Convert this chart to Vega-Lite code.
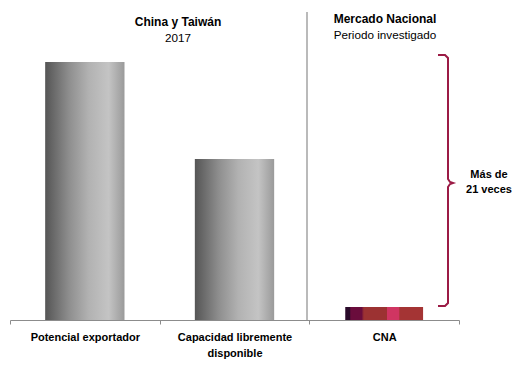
{
  "$schema": "https://vega.github.io/schema/vega-lite/v6.json",
  "autosize": "none",
  "width": 449,
  "height": 310,
  "padding": {"left": 10, "top": 10, "right": 60, "bottom": 52},
  "background": "white",
  "config": {"view": {"stroke": null}, "font": "Liberation Sans"},
  "datasets": {
    "bars": [
      {"categoria": "Potencial exportador", "valor": 258},
      {"categoria": "Capacidad libremente disponible", "valor": 161},
      {"categoria": "CNA", "valor": 13}
    ],
    "bracket": [
      {"orden": 1, "px": 428, "py": 265},
      {"orden": 2, "px": 435, "py": 265},
      {"orden": 3, "px": 438, "py": 262},
      {"orden": 4, "px": 438, "py": 141},
      {"orden": 5, "px": 440, "py": 138},
      {"orden": 6, "px": 443, "py": 137},
      {"orden": 7, "px": 440, "py": 136},
      {"orden": 8, "px": 438, "py": 133},
      {"orden": 9, "px": 438, "py": 17},
      {"orden": 10, "px": 435, "py": 14},
      {"orden": 11, "px": 428, "py": 14}
    ],
    "textos": [
      {"tipo": "titulo", "px": 168, "py": 298, "texto": "China y Taiwán"},
      {"tipo": "subtitulo", "px": 168, "py": 282, "texto": "2017"},
      {"tipo": "titulo", "px": 375, "py": 301, "texto": "Mercado Nacional"},
      {"tipo": "subtitulo", "px": 375, "py": 285, "texto": "Periodo investigado"},
      {"tipo": "nota", "px": 479, "py": 145, "texto": "Más de"},
      {"tipo": "nota", "px": 479, "py": 130, "texto": "21 veces"}
    ],
    "separador": [{"px": 297, "y1": 308, "y2": 0}]
  },
  "layer": [
    {
      "data": {"name": "bars"},
      "encoding": {
        "x": {
          "field": "categoria", "type": "nominal", "sort": null,
          "scale": {"paddingInner": 0, "paddingOuter": 0},
          "axis": {
            "title": null, "labelAngle": 0, "domainColor": "#8c8c8c", "tickColor": "#8c8c8c",
            "tickBand": "extent", "tickSize": 4, "labelPadding": 7,
            "labelFont": "Liberation Sans", "labelFontWeight": "bold", "labelFontSize": 11, "labelColor": "#000000",
            "labelLineHeight": 16, "labelBaseline": "top",
            "labelExpr": "datum.label == 'Capacidad libremente disponible' ? ['Capacidad libremente', 'disponible'] : datum.label"
          }
        },
        "y": {"field": "valor", "type": "quantitative", "scale": {"domain": [0, 310], "nice": false, "zero": true}, "axis": null}
      },
      "layer": [
        {
          "transform": [{"filter": "datum.categoria != 'CNA'"}],
          "mark": {
            "type": "bar", "width": {"band": 0.53},
            "color": {
              "gradient": "linear", "x1": 0, "x2": 1, "y1": 0, "y2": 0,
              "stops": [
                {"offset": 0, "color": "#555555"},
                {"offset": 0.3, "color": "#8e8e8e"},
                {"offset": 0.55, "color": "#b2b2b2"},
                {"offset": 0.8, "color": "#c4c4c4"},
                {"offset": 1, "color": "#9a9a9a"}
              ]
            }
          }
        },
        {
          "transform": [{"filter": "datum.categoria == 'CNA'"}],
          "mark": {
            "type": "bar", "width": {"band": 0.52},
            "color": {
              "gradient": "linear", "x1": 0, "x2": 1, "y1": 0, "y2": 0,
              "stops": [
                {"offset": 0, "color": "#2a0a2a"},
                {"offset": 0.06, "color": "#2a0a2a"},
                {"offset": 0.07, "color": "#6a0c3c"},
                {"offset": 0.21, "color": "#6a0c3c"},
                {"offset": 0.24, "color": "#9c3232"},
                {"offset": 0.53, "color": "#9c3232"},
                {"offset": 0.54, "color": "#d03562"},
                {"offset": 0.69, "color": "#d03562"},
                {"offset": 0.7, "color": "#a43434"},
                {"offset": 1, "color": "#a43434"}
              ]
            }
          }
        }
      ]
    },
    {
      "layer": [
        {
          "data": {"name": "separador"},
          "mark": {"type": "rule", "color": "#8c8c8c", "strokeWidth": 1.2},
          "encoding": {
            "x": {"field": "px", "type": "quantitative", "scale": {"domain": [0, 449], "nice": false}, "axis": null},
            "y": {"field": "y1", "type": "quantitative", "scale": {"domain": [0, 310], "nice": false}},
            "y2": {"field": "y2"}
          }
        },
        {
          "data": {"name": "bracket"},
          "mark": {"type": "line", "color": "#9b1b45", "strokeWidth": 2},
          "encoding": {
            "x": {"field": "px", "type": "quantitative", "scale": {"domain": [0, 449], "nice": false}, "axis": null},
            "y": {"field": "py", "type": "quantitative", "scale": {"domain": [0, 310], "nice": false}},
            "order": {"field": "orden"}
          }
        },
        {
          "data": {"name": "textos"},
          "transform": [{"filter": "datum.tipo == 'titulo'"}],
          "mark": {"type": "text", "fontWeight": "bold", "fontSize": 12, "color": "#000000", "align": "center", "baseline": "middle"},
          "encoding": {
            "x": {"field": "px", "type": "quantitative", "scale": {"domain": [0, 449], "nice": false}, "axis": null},
            "y": {"field": "py", "type": "quantitative", "scale": {"domain": [0, 310], "nice": false}},
            "text": {"field": "texto"}
          }
        },
        {
          "data": {"name": "textos"},
          "transform": [{"filter": "datum.tipo == 'nota'"}],
          "mark": {"type": "text", "fontWeight": "bold", "fontSize": 11, "color": "#000000", "align": "center", "baseline": "middle"},
          "encoding": {
            "x": {"field": "px", "type": "quantitative", "scale": {"domain": [0, 449], "nice": false}, "axis": null},
            "y": {"field": "py", "type": "quantitative", "scale": {"domain": [0, 310], "nice": false}},
            "text": {"field": "texto"}
          }
        },
        {
          "data": {"name": "textos"},
          "transform": [{"filter": "datum.tipo == 'subtitulo'"}],
          "mark": {"type": "text", "fontSize": 11.7, "color": "#000000", "align": "center", "baseline": "middle"},
          "encoding": {
            "x": {"field": "px", "type": "quantitative", "scale": {"domain": [0, 449], "nice": false}, "axis": null},
            "y": {"field": "py", "type": "quantitative", "scale": {"domain": [0, 310], "nice": false}},
            "text": {"field": "texto"}
          }
        }
      ]
    }
  ],
  "resolve": {"scale": {"x": "independent"}, "axis": {"x": "independent"}}
}
